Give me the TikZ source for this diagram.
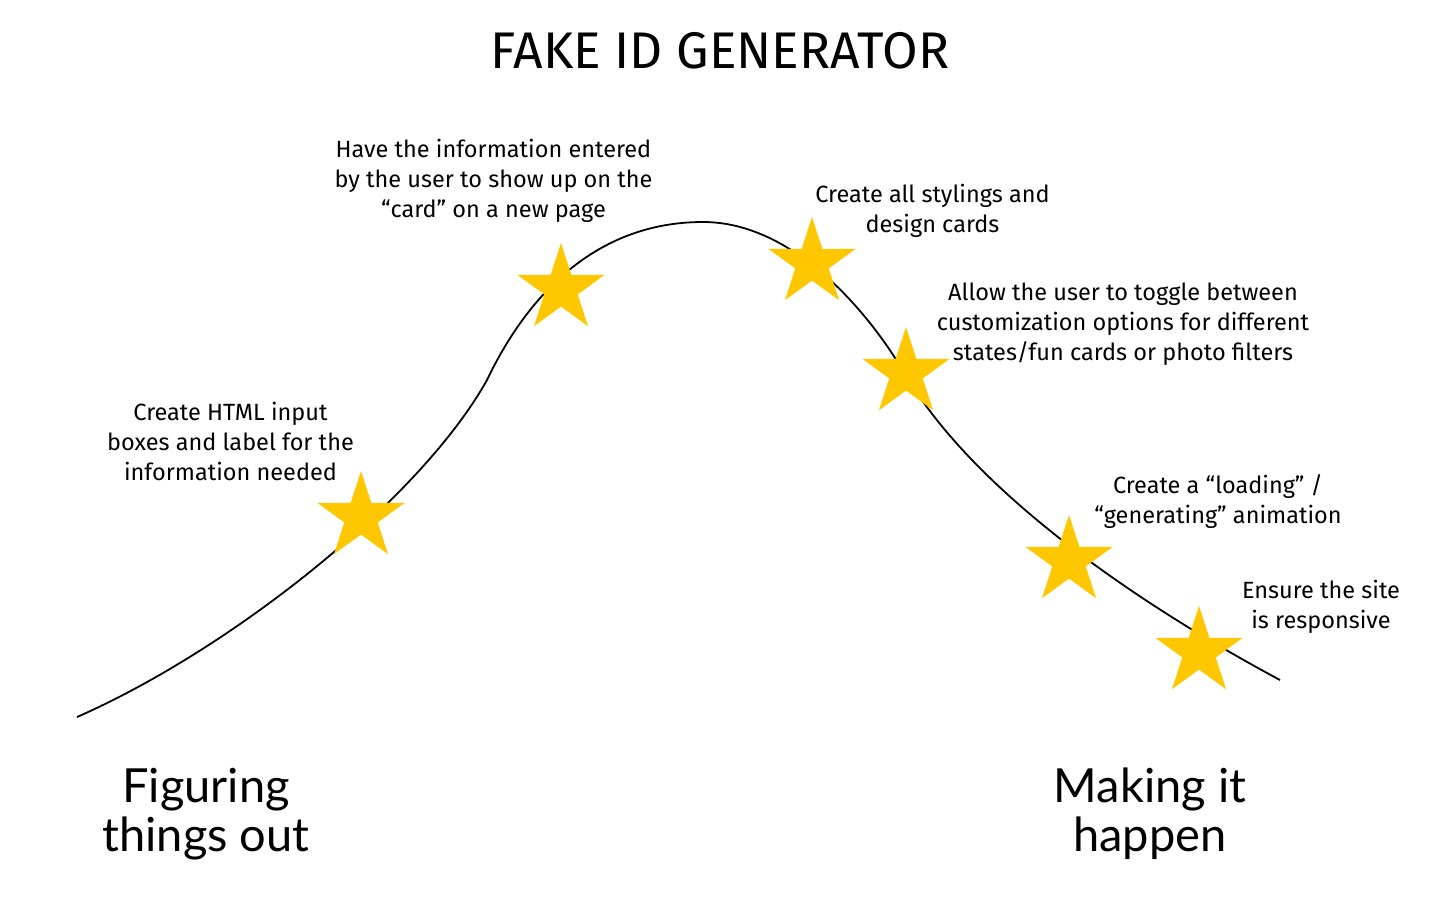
\documentclass[tikz,border=0pt]{standalone}
\usepackage{fontspec}
\setmainfont{Fira Sans}
\newfontfamily\handfont{Lato}
\usetikzlibrary{shapes.geometric}
\definecolor{starc}{HTML}{FFC700}
\tikzset{
  note/.style={anchor=base, align=center, inner sep=0pt, font=\fontsize{23.5}{30}\selectfont},
  hand/.style={anchor=base, align=center, inner sep=0pt, font=\handfont\fontsize{47}{49}\selectfont},
  goldstar/.style={star, star points=5, star point ratio=2.618, minimum size=92pt, inner sep=0pt, fill=starc, draw=none},
  hill/.style={draw=black, line width=1.8pt}
}
\begin{document}
\begin{tikzpicture}[x=1pt,y=-1pt]
\useasboundingbox (0,0) rectangle (1440,900);
\fill[white] (0,0) rectangle (1440,900);
\node[anchor=base, inner sep=0pt, font=\fontsize{51.5}{60}\selectfont] (title) at (720,68) {FAKE ID GENERATOR};
\coordinate (c0) at (77,717);
\coordinate (c1) at (487,380);
\coordinate (c2) at (703,222);
\coordinate (c3) at (905,374);
\coordinate (c4) at (1280,680);
\draw[hill] (c0) .. controls (230,650) and (420,500) .. (c1)
  .. controls (530,290) and (600,222) .. (c2)
  .. controls (790,222) and (865,306) .. (c3)
  .. controls (975,493) and (1140,605) .. (c4);
\node[goldstar] (s1) at (361,517) {};
\node[goldstar] (s2) at (561,289) {};
\node[goldstar] (s3) at (812,263) {};
\node[goldstar] (s4) at (906,373) {};
\node[goldstar] (s5) at (1069,561) {};
\node[goldstar] (s6) at (1199,652) {};
\node[note] (t1) at (230.5,480) {Create HTML input\\boxes and label for the\\information needed};
\node[note] (t2) at (493.5,217) {Have the information entered\\by the user to show up on the\\“card” on a new page};
\node[note] (t3) at (932.5,232) {Create all stylings and\\design cards};
\node[note] (t4) at (1123,360) {Allow the user to toggle between\\customization options for different\\states/fun cards or photo filters};
\node[note] (t5) at (1218,523) {Create a “loading” /\\“generating” animation};
\node[note] (t6) at (1321,628) {Ensure the site\\is responsive};
\node[hand] (h1) at (206,851) {Figuring\\things out};
\node[hand] (h2) at (1150,851) {Making it\\happen};
\end{tikzpicture}
\end{document}
